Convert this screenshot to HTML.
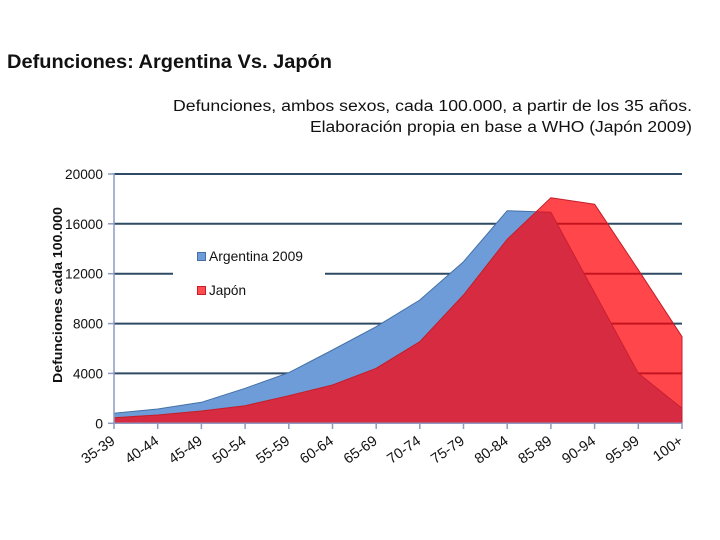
<!DOCTYPE html>
<html>
<head>
<meta charset="utf-8">
<style>
  html, body { margin: 0; padding: 0; background: #ffffff; }
  svg { display: block; }
  text { font-family: "Liberation Sans", Arial, sans-serif; fill: #111; }
</style>
</head>
<body>
<svg width="720" height="540" viewBox="0 0 720 540" xmlns="http://www.w3.org/2000/svg">
  <rect x="0" y="0" width="720" height="540" fill="#ffffff"/>

  <!-- Title -->
  <text x="7" y="68" font-size="19.5" font-weight="bold" textLength="325" lengthAdjust="spacingAndGlyphs">Defunciones: Argentina Vs. Japón</text>

  <!-- Subtitle -->
  <text x="173" y="111" font-size="15.5" textLength="519" lengthAdjust="spacingAndGlyphs">Defunciones, ambos sexos, cada 100.000, a partir de los 35 años.</text>
  <text x="310" y="132" font-size="15.5" textLength="382" lengthAdjust="spacingAndGlyphs">Elaboración propia en base a WHO (Japón 2009)</text>

  <!-- Gridlines -->
  <g stroke="#2F4A64" stroke-width="2">
    <line x1="114" y1="174" x2="682" y2="174"/>
    <line x1="114" y1="223.8" x2="682" y2="223.8"/>
    <line x1="114" y1="273.7" x2="173" y2="273.7"/>
    <line x1="325" y1="273.7" x2="682" y2="273.7"/>
    <line x1="114" y1="323.6" x2="682" y2="323.6"/>
    <line x1="114" y1="373.4" x2="682" y2="373.4"/>
  </g>

  <!-- Argentina area (opaque, behind) -->
  <polygon fill="#6D9CD8" stroke="#4470A5" stroke-width="1" stroke-linejoin="round"
    points="114,423.3 114,413.3 157.7,409 201.4,402.3 245.1,388.3 288.8,372.7 332.5,350 376.2,326.7 419.8,300 463.5,261.7 507.2,210.7 550.9,212.3 594.6,292.9 638.3,373.3 682,408.3 682,423.3"/>

  <!-- Japón area (semi-transparent, front) -->
  <polygon fill="rgba(255,0,6,0.72)" stroke="#C41E2A" stroke-width="1" stroke-linejoin="round"
    points="114,423.3 114,417.7 157.7,415 201.4,411 245.1,405.7 288.8,395.7 332.5,385 376.2,368.3 419.8,341.7 463.5,295 507.2,239.3 550.9,197.7 594.6,204.2 638.3,269.8 682,336.7 682,423.3"/>

  <!-- Axes -->
  <g stroke="#8E9AC0" stroke-width="1.5">
    <line x1="114" y1="173" x2="114" y2="424"/>
    <line x1="113" y1="423.3" x2="682" y2="423.3"/>
    <line x1="108" y1="174" x2="114" y2="174"/>
    <line x1="108" y1="223.8" x2="114" y2="223.8"/>
    <line x1="108" y1="273.7" x2="114" y2="273.7"/>
    <line x1="108" y1="323.6" x2="114" y2="323.6"/>
    <line x1="108" y1="373.4" x2="114" y2="373.4"/>
    <line x1="108" y1="423.3" x2="114" y2="423.3"/>
    <line x1="114" y1="423" x2="114" y2="429"/>
    <line x1="157.7" y1="423" x2="157.7" y2="429"/>
    <line x1="201.4" y1="423" x2="201.4" y2="429"/>
    <line x1="245.1" y1="423" x2="245.1" y2="429"/>
    <line x1="288.8" y1="423" x2="288.8" y2="429"/>
    <line x1="332.5" y1="423" x2="332.5" y2="429"/>
    <line x1="376.2" y1="423" x2="376.2" y2="429"/>
    <line x1="419.8" y1="423" x2="419.8" y2="429"/>
    <line x1="463.5" y1="423" x2="463.5" y2="429"/>
    <line x1="507.2" y1="423" x2="507.2" y2="429"/>
    <line x1="550.9" y1="423" x2="550.9" y2="429"/>
    <line x1="594.6" y1="423" x2="594.6" y2="429"/>
    <line x1="638.3" y1="423" x2="638.3" y2="429"/>
    <line x1="682" y1="423" x2="682" y2="429"/>
  </g>

  <!-- Y tick labels -->
  <g font-size="14" text-anchor="end">
    <text x="103" y="179" textLength="38" lengthAdjust="spacingAndGlyphs">20000</text>
    <text x="103" y="228.8" textLength="38" lengthAdjust="spacingAndGlyphs">16000</text>
    <text x="103" y="278.7" textLength="38" lengthAdjust="spacingAndGlyphs">12000</text>
    <text x="103" y="328.6" textLength="30" lengthAdjust="spacingAndGlyphs">8000</text>
    <text x="103" y="378.4" textLength="30" lengthAdjust="spacingAndGlyphs">4000</text>
    <text x="103" y="428.3">0</text>
  </g>

  <!-- Y axis title -->
  <text transform="translate(62,295) rotate(-90)" text-anchor="middle" font-size="12.5" font-weight="bold" textLength="176" lengthAdjust="spacingAndGlyphs">Defunciones cada 100.000</text>

  <!-- X tick labels -->
  <g font-size="14.5" text-anchor="end">
    <text transform="translate(116,443) rotate(-35)">35-39</text>
    <text transform="translate(159.7,443) rotate(-35)">40-44</text>
    <text transform="translate(203.4,443) rotate(-35)">45-49</text>
    <text transform="translate(247.1,443) rotate(-35)">50-54</text>
    <text transform="translate(290.8,443) rotate(-35)">55-59</text>
    <text transform="translate(334.5,443) rotate(-35)">60-64</text>
    <text transform="translate(378.2,443) rotate(-35)">65-69</text>
    <text transform="translate(421.8,443) rotate(-35)">70-74</text>
    <text transform="translate(465.5,443) rotate(-35)">75-79</text>
    <text transform="translate(509.2,443) rotate(-35)">80-84</text>
    <text transform="translate(552.9,443) rotate(-35)">85-89</text>
    <text transform="translate(596.6,443) rotate(-35)">90-94</text>
    <text transform="translate(640.3,443) rotate(-35)">95-99</text>
    <text transform="translate(684,443) rotate(-35)">100+</text>
  </g>

  <!-- Legend -->
  <rect x="197.5" y="252.5" width="8" height="8" fill="#6D9CD8" stroke="#4470A5" stroke-width="1"/>
  <text x="209" y="261" font-size="14" textLength="94" lengthAdjust="spacingAndGlyphs">Argentina 2009</text>
  <rect x="197.5" y="286.5" width="8" height="8" fill="#FF4A4E" stroke="#C41E2A" stroke-width="1"/>
  <text x="209" y="295" font-size="14" textLength="37" lengthAdjust="spacingAndGlyphs">Japón</text>
</svg>
</body>
</html>
